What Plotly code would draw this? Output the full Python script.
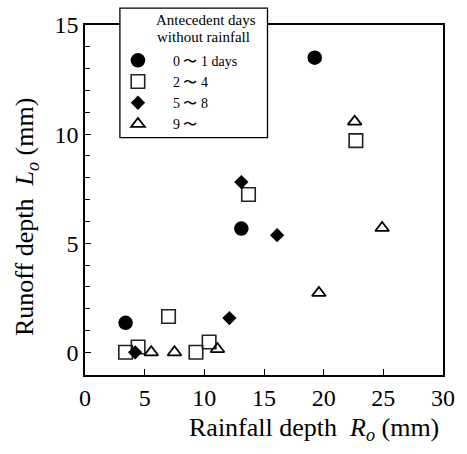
import plotly.graph_objects as go

# Data: rainfall depth Ro (mm) and runoff depth Lo (mm) by antecedent dry days
group_names = ["0 〜 1 days", "2 〜 4", "5 〜 8", "9 〜"]

g1_x = [3.4, 13.1, 19.25]
g1_y = [1.35, 5.67, 13.5]

g2_x = [3.4, 4.45, 7.0, 9.3, 10.4, 13.7, 22.7]
g2_y = [0.0, 0.24, 1.64, 0.0, 0.47, 7.23, 9.7]

g3_x = [4.2, 12.1, 13.1, 16.1]
g3_y = [0.0, 1.57, 7.8, 5.37]

g4_x = [5.55, 7.5, 11.1, 19.6, 22.6, 24.9]
g4_y = [0.0, 0.0, 0.15, 2.72, 10.57, 5.7]

x_ticks = [0, 5, 10, 15, 20, 25, 30]
y_ticks = [0, 5, 10, 15]

legend_title_lines = ["Antecedent days", "without rainfall"]
x_title = "Rainfall depth  <i>R<sub>o</sub></i> (mm)"
y_title = "Runoff depth  <i>L<sub>o</sub></i> (mm)"

fig = go.Figure()
fig.add_trace(go.Scatter(x=g1_x, y=g1_y, mode="markers", name=group_names[0],
                         marker=dict(symbol="circle", size=14.5, color="black")))
fig.add_trace(go.Scatter(x=g2_x, y=g2_y, mode="markers", name=group_names[1],
                         marker=dict(symbol="square-open", size=13.5, color="#222",
                                     line=dict(width=1.6, color="#222"))))
fig.add_trace(go.Scatter(x=g3_x, y=g3_y, mode="markers", name=group_names[2],
                         marker=dict(symbol="diamond", size=11, color="black")))
fig.add_trace(go.Scatter(x=g4_x, y=g4_y, mode="markers", name=group_names[3],
                         marker=dict(symbol="triangle-up-open", size=12, color="black",
                                     line=dict(width=1.8, color="black"))))

serif = "Liberation Serif, Times New Roman, serif"

# plot area in pixels: x 85..444, y 21..375
PW, PH = 359.0, 354.0
def px_x(p):
    return (p - 85) / PW
def px_y(p):
    return (375 - p) / PH

annotations = [
    dict(text=legend_title_lines[0], xref="paper", yref="paper",
         x=px_x(206), y=px_y(16), xanchor="center", yanchor="middle",
         showarrow=False, font=dict(family=serif, size=15, color="black")),
    dict(text=legend_title_lines[1], xref="paper", yref="paper",
         x=px_x(204), y=px_y(33), xanchor="center", yanchor="middle",
         showarrow=False, font=dict(family=serif, size=15, color="black")),
    dict(text=x_title, xref="paper", yref="paper",
         x=px_x(315), y=px_y(430), xanchor="center", yanchor="middle",
         showarrow=False, font=dict(family=serif, size=26, color="black")),
    dict(text=y_title, xref="paper", yref="paper",
         x=px_x(26), y=px_y(215), xanchor="center", yanchor="middle",
         textangle=-90, showarrow=False,
         font=dict(family=serif, size=26, color="black")),
]

fig.update_layout(
    width=467, height=454,
    margin=dict(l=85, r=23, t=21, b=79),
    paper_bgcolor="white", plot_bgcolor="white",
    font=dict(family=serif, size=24, color="black"),
    showlegend=True,
    legend=dict(
        x=px_x(103), y=px_y(41),
        xanchor="left", yanchor="top",
        bgcolor="rgba(0,0,0,0)", borderwidth=0,
        font=dict(family=serif, size=14, color="black"),
        tracegroupgap=0, itemwidth=60,
    ),
    shapes=[dict(type="rect", xref="paper", yref="paper",
                 x0=px_x(120), x1=px_x(268), y0=px_y(135), y1=px_y(4),
                 fillcolor="white", line=dict(color="black", width=1.3),
                 layer="above")],
    annotations=annotations,
    xaxis=dict(
        range=[0, 30], tickvals=x_ticks, ticktext=[str(v) for v in x_ticks],
        showline=True, linecolor="black", linewidth=1.6, mirror=True,
        ticks="inside", ticklen=6, tickwidth=1.2, tickcolor="black",
        showgrid=False, zeroline=False,
        tickfont=dict(family=serif, size=24),
    ),
    yaxis=dict(
        range=[-1.04, 15], tickvals=y_ticks, ticktext=[str(v) for v in y_ticks],
        showline=True, linecolor="black", linewidth=1.6, mirror=True,
        ticks="inside", ticklen=6, tickwidth=1.2, tickcolor="black",
        minor=dict(dtick=1, ticks="inside", ticklen=5, tickcolor="black", tickwidth=1),
        showgrid=False, zeroline=False,
        tickfont=dict(family=serif, size=24),
    ),
)

fig.write_html("out.html")
